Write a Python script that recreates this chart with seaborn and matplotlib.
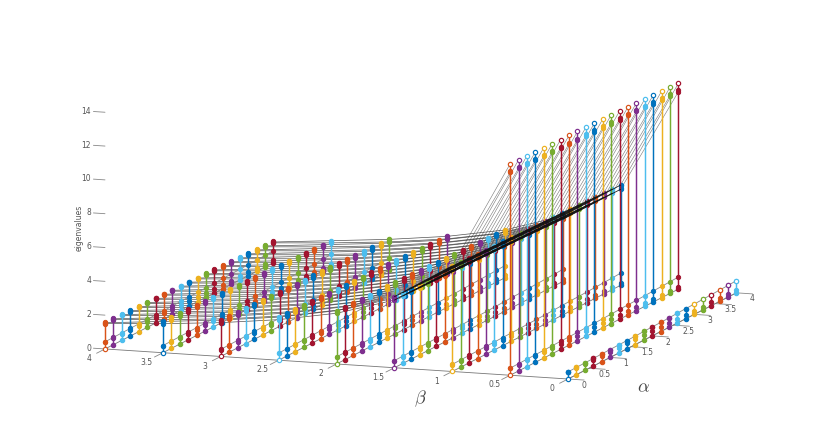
import numpy as np
import matplotlib
matplotlib.use("Agg")
import matplotlib.pyplot as plt
import seaborn as sns
from mpl_toolkits.mplot3d import proj3d

# ---- data ----
alpha = [0, .2, .4, .6, .8, 1, 1.2, 1.4, 1.6, 1.8, 2, 2.2, 2.4, 2.6, 2.8, 3, 3.2, 3.4, 3.6, 3.8, 4]
beta = [0, .5, 1, 1.5, 2, 2.5, 3, 3.5, 4]
# large eigenvalue pair: level per beta (beta=0 has none)
upper_by_beta = [np.nan, 12.5, 6.25, 4.2, 3.15, 2.55, 2.15, 1.85, 1.55]
lower_by_beta = [np.nan, 12.0, 6.0, 4.0, 3.0, 2.4, 2.0, 1.72, 1.5]
# shift of that pair along alpha
upper_shift_alpha = [0, -.02, -.03, -.05, -.06, -.08, -.09, -.1, -.12, -.13, -.15, -.16, -.17, -.19, -.2, -.22, -.24, -.26, -.28, -.3, -.32]
# three small eigenvalues along alpha
small_a = [0, 0, 0, 0, 0, 0, 0, 0, 0, 0, 0, 0, 0, 0, 0, 0, 0, 0, 0, 0, 0]
small_b = [.4, .38, .37, .36, .35, .34, .33, .32, .31, .3, .28, .27, .26, .25, .24, .22, .21, .2, .18, .16, .15]
small_c = [.42, .43, .44, .45, .46, .47, .48, .49, .5, .52, .53, .54, .56, .58, .6, .61, .63, .65, .67, .69, .72]

palette = ["#0072BD", "#D95319", "#EDB120", "#7E2F8E", "#77AC30", "#4DBEEE", "#A2142F"]
beta_ticks = ["0", "0.5", "1", "1.5", "2", "2.5", "3", "3.5", "4"]
alpha_ticks = ["0", "0.5", "1", "1.5", "2", "2.5", "3", "3.5", "4"]
axis_ticks = [0, .5, 1, 1.5, 2, 2.5, 3, 3.5, 4]
z_ticks = [0, 2, 4, 6, 8, 10, 12, 14]

sns.set_theme(style="white", rc={"font.family": ["DejaVu Sans"]})
colors = sns.color_palette(palette)
W, H = 814, 426
fig = plt.figure(figsize=(W / 100, H / 100), dpi=100)
S = 706.6
cx, cy = 420.6, H - 194
ax = fig.add_axes([(cx - S / 2) / W, (cy - S / 2) / H, S / W, S / H], projection="3d",
                  proj_type="ortho", computed_zorder=False)
ax.set_xlim(0, 4); ax.set_ylim(0, 4); ax.set_zlim(0, 15)
ax.set_box_aspect((4 * 125.5, 4 * 122.9, 15 * 17.2))
ax.view_init(elev=10.5, azim=-160.4)
ax.set_xticks([]); ax.set_yticks([]); ax.set_zticks([])
ax.set_axis_off()
ax.patch.set_alpha(0)


def screen(x, y, z):
    X, Y, _ = proj3d.proj_transform(x, y, z, ax.get_proj())
    return ax.transData.transform((X, Y))


# fit the square axes so the floor origin and beta extent land where the reference has them
for _ in range(3):
    fig.canvas.draw()
    o = screen(0, 0, 0)
    b4 = screen(0, 4, 0)
    S *= 463.0 / (o[0] - b4[0])
    ax.set_position([(cx - S / 2) / W, (cy - S / 2) / H, S / W, S / H])
    fig.canvas.draw()
    o = screen(0, 0, 0)
    cx += 568 - o[0]
    cy += (H - 379) - o[1]
    ax.set_position([(cx - S / 2) / W, (cy - S / 2) / H, S / W, S / H])
fig.canvas.draw()


def label(x, y, z, s, **kwargs):
    p = screen(x, y, z)
    fig.text(p[0] / W, p[1] / H, s, fontsize=5.5, color="#555555", va="center", **kwargs)


A = np.array(alpha); B = np.array(beta)
upper = np.array(upper_by_beta)[:, None] + np.array(upper_shift_alpha)[None, :]
lower = np.array(lower_by_beta)[:, None] + np.array(upper_shift_alpha)[None, :]
sa, sb, sc = np.array(small_a), np.array(small_b), np.array(small_c)

# axes
kw = dict(clip_on=False)
ax.plot([0, 0], [0, 4], [0, 0], color="#777777", lw=.6, **kw)
ax.plot([0, 4], [0, 0], [0, 0], color="#999999", lw=.6, **kw)
for t in axis_ticks:
    ax.plot([0, -.2], [t, t], [0, 0], color="#888888", lw=.6, **kw)
    ax.plot([t, t], [0, -.14], [0, 0], color="#888888", lw=.6, **kw)
for t in z_ticks:
    ax.plot([0, 0], [4, 4.1], [t, t], color="#888888", lw=.6, **kw)
for t, s, s2 in zip(axis_ticks, beta_ticks, alpha_ticks):
    label(-.38, t, -.08, s, ha="center")
    label(t, -.135, -.3, s2, ha="center")
for t in z_ticks:
    label(0, 4.12, t, str(t), ha="right")
fig.text(79 / W, 1 - 228 / H, "eigenvalues", fontsize=5.5, color="#555555", rotation=90, ha="center", va="center")
fig.text(420 / W, 1 - 399 / H, r"$\beta$", fontsize=13, color="#444444", ha="center", va="center", math_fontfamily="cm")
fig.text(643 / W, 1 - 387 / H, r"$\alpha$", fontsize=13, color="#444444", ha="center", va="center", math_fontfamily="cm")

# lines along beta through the large pair, and along alpha through small ones
for j, a in enumerate(A):
    for lev in (lower, upper):
        ax.plot(np.full(2, a), B[1:3], lev[1:3, j], color="#777777", lw=.4, **kw)
        ax.plot(np.full(6, a), B[3:], lev[3:, j], color="#333333", lw=.5, alpha=.85, **kw)
for b in B:
    ax.plot(A, np.full(21, b), sa, color="#777777", lw=.6, **kw)
    ax.plot(A, np.full(21, b), sc, color="#888888", lw=.6, **kw)

# stems
for i in range(8, -1, -1):
    for j in range(len(A)):
        c = colors[(i + 2 * j) % 7]
        zs = [sb[j], sc[j]]
        if i > 0:
            zs += [lower[i, j], lower[i, j] + .08]
        top = upper[i, j] if i > 0 else sc[j]
        ax.plot([A[j], A[j]], [B[i], B[i]], [0, top], color=c, lw=1.05, **kw)
        ax.plot(np.full(len(zs), A[j]), np.full(len(zs), B[i]), zs, ls="none", marker="o", ms=3.1,
                mfc=c, mec=c, mew=.7, **kw)
        floor_fill = "white" if j == 0 else c
        top_fill = "white" if (i == 1 or (i == 0 and j >= 15)) else c
        ax.plot([A[j]], [B[i]], [sa[j]], ls="none", marker="o", ms=3.1, mfc=floor_fill, mec=c, mew=.85, **kw)
        ax.plot([A[j]], [B[i]], [top], ls="none", marker="o", ms=3.1, mfc=top_fill, mec=c, mew=.85, **kw)

# the steep beta=1..1.5 segments run in line with the rows and pile up black in front of the stems
for j, a in enumerate(A):
    for lev in (lower, upper):
        ax.plot(np.full(2, a), B[2:4], lev[2:4, j], color="#111111", lw=.55, **kw)

fig.savefig("out.png", dpi=100)
